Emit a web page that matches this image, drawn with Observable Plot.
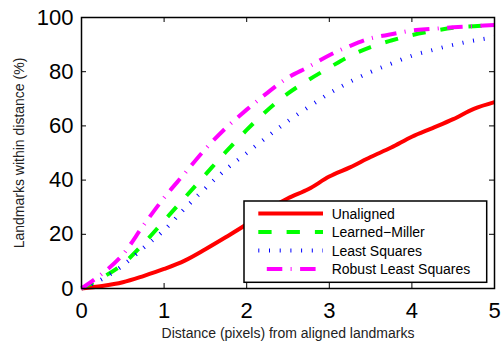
<!DOCTYPE html>
<html><head><meta charset="utf-8">
<script src="https://cdn.jsdelivr.net/npm/d3@7"></script>
<script src="https://cdn.jsdelivr.net/npm/@observablehq/plot@0.6"></script>
<style>body{margin:0;background:#fff}#chart svg{display:block}</style>
</head><body><div id="chart"></div>
<script>
const distance = [0,0.25,0.5,0.75,1,1.25,1.5,1.75,2,2.25,2.5,2.75,3,3.25,3.5,3.75,4,4.25,4.5,4.75,5];
const unaligned = [0,0.9,2.3,4.6,7.2,10.3,14.5,19,23.7,29,33.3,36.7,41.3,44.7,48.5,52,56,59.2,62.5,66.3,68.8];
const learnedMiller = [0,4,9,16.5,25,33.5,42,50.5,58.5,65.8,72,77,81.5,85.8,89.1,91.5,93.5,95,96.2,96.8,97];
const leastSquares = [0,3.5,8.5,15,21.5,29.5,37,44,50,56,61.8,67,72,76.3,79.9,83,85.9,88,89.9,91.5,92.7];
const robustLeastSquares = [0,5.5,12.5,23.3,33.5,42.5,51.5,59.3,66,72.2,77.8,81.8,86.1,89.5,92.3,93.8,95.2,95.8,96.4,96.8,97.2];
const seriesNames = ["Unaligned","Learned\u2212Miller","Least Squares","Robust Least Squares"];
const seriesColors = ["#ff0000","#00ff00","#0000ff","#ff00ff"];
const seriesDash = [null,"13.3,15","1,9.7","15.5,8.3,1,8.5"];
const xTicks = [0,1,2,3,4,5];
const yTicks = [0,20,40,60,80,100];
const xLabel = "Distance (pixels) from aligned landmarks";
const yLabel = "Landmarks within distance (%)";

const W = 503, H = 341;
const mL = 81, mR = 9, mT = 17, mB = 53;
const font = "'Liberation Sans', Arial, Helvetica, sans-serif";
const allSeries = [unaligned, learnedMiller, leastSquares, robustLeastSquares];
const rows = allSeries.flatMap((vals, i) => vals.map((v, j) => ({x: distance[j], y: v, s: seriesNames[i]})));

const plotW = W - mL - mR, plotH = H - mT - mB;
const tickPx = 5;
const tx = tickPx / plotW * 5, ty = tickPx / plotH * 100;

const lineMarks = seriesNames.map((name, i) => Plot.line(rows.filter(r => r.s === name), {
  x: "x", y: "y", stroke: seriesColors[i], strokeWidth: 4,
  strokeDasharray: seriesDash[i] || undefined, strokeLinecap: "butt", strokeLinejoin: "round",
  curve: "monotone-x"
}));

const chart = Plot.plot({
  width: W, height: H,
  marginLeft: mL, marginRight: mR, marginTop: mT, marginBottom: mB,
  style: {fontFamily: font, fontSize: "22px", color: "#000", background: "#fff", overflow: "visible"},
  x: {domain: [0, 5]},
  y: {domain: [0, 100]},
  marks: [
    ...lineMarks,
    Plot.ruleX(xTicks, {x: d => d, y1: 0, y2: ty, stroke: "#000", strokeWidth: 1}),
    Plot.ruleX(xTicks, {x: d => d, y1: 100 - ty, y2: 100, stroke: "#000", strokeWidth: 1}),
    Plot.ruleY(yTicks, {y: d => d, x1: 0, x2: tx, stroke: "#000", strokeWidth: 1}),
    Plot.ruleY(yTicks, {y: d => d, x1: 5 - tx, x2: 5, stroke: "#000", strokeWidth: 1}),
    Plot.frame({stroke: "#000", strokeWidth: 1.5}),
    Plot.axisX({ticks: xTicks, tickSize: 0, tickPadding: 14, tickFormat: d => String(d), label: null, fontSize: 22}),
    Plot.axisY({ticks: yTicks, tickSize: 0, tickPadding: 8, tickFormat: d => String(d), label: null, fontSize: 22}),
    Plot.text([xLabel], {text: d => d, frameAnchor: "bottom", textAnchor: "middle", lineAnchor: "bottom", dy: 49.3, fontSize: 14, fill: "#222"}),
    Plot.text([yLabel], {text: d => d, frameAnchor: "left", textAnchor: "middle", lineAnchor: "bottom", rotate: -90, dx: -58, fontSize: 14, fill: "#222"})
  ]
});

// legend inside the plot area (lower right)
const svg = d3.select(chart);
const boxW = 242.7, boxH = 81.3;
const bx = W - mR - 7.3 - boxW, by = H - mB - 5.7 - boxH;
const g = svg.append("g").attr("font-family", font).attr("font-size", 14).attr("text-anchor", "start");
g.append("rect").attr("x", bx).attr("y", by).attr("width", boxW).attr("height", boxH)
  .attr("fill", "#fff").attr("stroke", "#000").attr("stroke-width", 1.5);
const rowY0 = by + 12.5, rowStep = 18.5;
seriesNames.forEach((name, i) => {
  const yy = rowY0 + i * rowStep;
  g.append("line").attr("x1", bx + 14.3).attr("x2", bx + 79).attr("y1", yy).attr("y2", yy)
    .attr("stroke", seriesColors[i]).attr("stroke-width", 4)
    .attr("stroke-dasharray", seriesDash[i])
    .attr("stroke-dashoffset", i === 3 ? 24.8 : 0);
  g.append("text").attr("x", bx + 87.7).attr("y", yy + 5.2).attr("fill", "#000")
    .attr("text-anchor", "start").text(name);
});

document.getElementById("chart").appendChild(chart);
</script>
</body></html>
